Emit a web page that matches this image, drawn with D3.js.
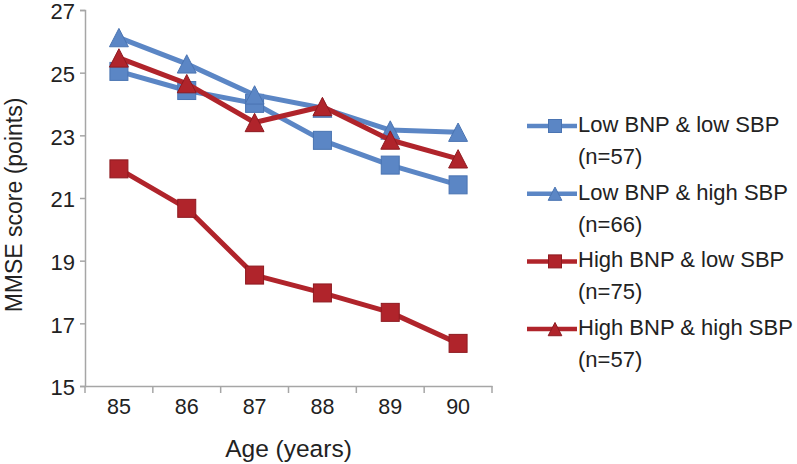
<!DOCTYPE html>
<html>
<head>
<meta charset="utf-8">
<script src="https://cdn.jsdelivr.net/npm/d3@7"></script>
<style>
  html, body { margin: 0; padding: 0; background: #fff; }
  svg { display: block; font-family: "Liberation Sans", Arial, sans-serif; }
</style>
</head>
<body>
<svg id="chart" width="797" height="464"></svg>
<script>
// ---- data ----
const ages = ["85", "86", "87", "88", "89", "90"];
const lowBnpLowSbp   = [25.04, 24.43, 24.02, 22.84, 22.05, 21.42];
const lowBnpHighSbp  = [26.12, 25.28, 24.29, 23.87, 23.17, 23.10];
const highBnpLowSbp  = [21.93, 20.67, 18.54, 17.97, 17.35, 16.36];
const highBnpHighSbp = [25.47, 24.65, 23.41, 23.92, 22.85, 22.25];
const yTicks = [15, 17, 19, 21, 23, 25, 27];
const seriesNames = [["Low BNP & low SBP", "(n=57)"], ["Low BNP & high SBP", "(n=66)"],
                     ["High BNP & low SBP", "(n=75)"], ["High BNP & high SBP", "(n=57)"]];

const BLUE = "#5b86c5", BLUE_D = "#4a74b2";
const RED = "#b0242b", RED_D = "#8e1a20";
const series = [
  { name: seriesNames[0], values: lowBnpLowSbp,   color: BLUE, stroke: BLUE_D, shape: "square" },
  { name: seriesNames[1], values: lowBnpHighSbp,  color: BLUE, stroke: BLUE_D, shape: "triangle" },
  { name: seriesNames[2], values: highBnpLowSbp,  color: RED,  stroke: RED_D,  shape: "square" },
  { name: seriesNames[3], values: highBnpHighSbp, color: RED,  stroke: RED_D,  shape: "triangle" }
];
const drawOrder = [0, 1, 2, 3];

const svg = d3.select("#chart");
const pLeft = 85, pRight = 492, pTop = 10, pBottom = 386;

const x = d3.scaleBand().domain(ages).range([pLeft, pRight]).padding(0);
const y = d3.scaleLinear().domain([15, 27]).range([pBottom, pTop]);

const AXIS = "#a6a6a6", TEXT = "#222";

// y axis
const yAxis = svg.append("g").attr("transform", `translate(${pLeft},0)`)
  .call(d3.axisLeft(y).tickValues(yTicks).tickSize(5).tickPadding(5).tickFormat(d3.format("d")));
yAxis.select(".domain").attr("stroke", AXIS).attr("stroke-width", 1.5);
yAxis.selectAll(".tick line").attr("stroke", AXIS).attr("stroke-width", 1.5);
yAxis.selectAll(".tick text").attr("fill", TEXT).style("font-size", "22px")
  .attr("dy", "0.4em");

// x axis
const xAxis = svg.append("g").attr("transform", `translate(0,${pBottom})`)
  .call(d3.axisBottom(x).tickSize(0).tickPadding(13));
xAxis.select(".domain").attr("stroke", AXIS).attr("stroke-width", 1.5);
xAxis.selectAll(".tick text").attr("fill", TEXT).style("font-size", "21.5px");
const edges = ages.map(a => x(a)).concat([x(ages[ages.length - 1]) + x.bandwidth()]);
xAxis.selectAll(".edge").data(edges).enter().append("line")
  .attr("x1", d => d).attr("x2", d => d).attr("y1", 0).attr("y2", 7)
  .attr("stroke", AXIS).attr("stroke-width", 1.5);

// axis titles
svg.append("text").attr("x", (pLeft + pRight) / 2).attr("y", 457)
  .attr("text-anchor", "middle").attr("fill", TEXT).style("font-size", "24.5px")
  .text("Age (years)");
svg.append("text").attr("transform", `translate(21.5,205) rotate(-90)`)
  .attr("text-anchor", "middle").attr("fill", TEXT).style("font-size", "23px")
  .text("MMSE score (points)");

function drawMarker(g, shape, cx, cy, size, fill, stroke) {
  if (shape === "square") {
    g.append("rect").attr("x", cx - size / 2).attr("y", cy - size / 2)
      .attr("width", size).attr("height", size)
      .attr("fill", fill).attr("stroke", stroke).attr("stroke-width", 1);
  } else {
    const h = size * 1.02, w = size * 1.05;
    g.append("path")
      .attr("d", `M${cx},${cy - h / 2}L${cx + w / 2},${cy + h / 2}L${cx - w / 2},${cy + h / 2}Z`)
      .attr("fill", fill).attr("stroke", stroke).attr("stroke-width", 1);
  }
}

const line = d3.line().x((d, i) => x(ages[i]) + x.bandwidth() / 2).y(d => y(d));

drawOrder.forEach(k => {
  const s = series[k];
  const g = svg.append("g");
  g.append("path").datum(s.values).attr("d", line)
    .attr("fill", "none").attr("stroke", s.color).attr("stroke-width", 5)
    .attr("stroke-linejoin", "round");
  s.values.forEach((v, i) => {
    drawMarker(g, s.shape, x(ages[i]) + x.bandwidth() / 2, y(v), 18, s.color, s.stroke);
  });
});

// legend
const legX = 578, legY0 = 132, legStep = 67.7;
series.forEach((s, k) => {
  const g = svg.append("g");
  const by = legY0 + k * legStep;
  const ly = by - 6;
  g.append("line").attr("x1", 527).attr("x2", 577).attr("y1", ly).attr("y2", ly)
    .attr("stroke", s.color).attr("stroke-width", 4.5);
  drawMarker(g, s.shape, 555, ly, 13, s.color, s.stroke);
  g.append("text").attr("x", legX).attr("y", by).attr("fill", TEXT)
    .style("font-size", "22px").text(s.name[0]);
  g.append("text").attr("x", legX).attr("y", by + 32).attr("fill", TEXT)
    .style("font-size", "22px").text(s.name[1]);
});
</script>
</body>
</html>
